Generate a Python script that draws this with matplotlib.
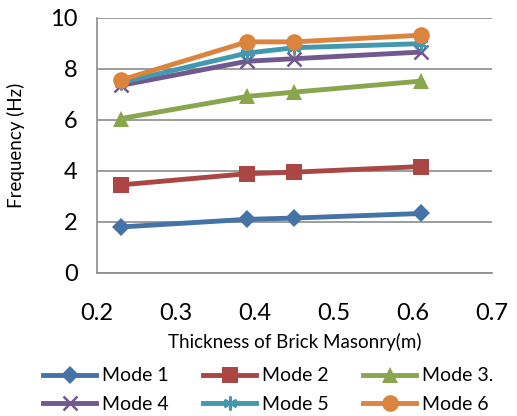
import matplotlib.pyplot as plt

plt.rcParams["font.family"] = ["Lato", "DejaVu Sans"]

thickness = [0.23, 0.39, 0.45, 0.61]
mode1 = [1.80, 2.10, 2.15, 2.33]
mode2 = [3.45, 3.89, 3.95, 4.17]
mode3 = [6.05, 6.92, 7.09, 7.52]
mode4 = [7.35, 8.30, 8.40, 8.66]
mode5 = [7.46, 8.62, 8.83, 8.99]
mode6 = [7.56, 9.06, 9.06, 9.32]

labels = ["Mode 1", "Mode 2", "Mode 3.", "Mode 4", "Mode 5", "Mode 6"]
colors = ["#4572A7", "#AA4643", "#89A54E", "#71588F", "#4198AF", "#DB843D"]
markers = ["D", "s", "^", "x", "*", "o"]
sizes = [9, 11, 12, 10, 10, 12]


def main() -> None:
    fig = plt.figure(figsize=(5.17, 4.16), dpi=100)
    ax = fig.add_axes([0.1876, 0.344, 0.764, 0.613])

    series = [mode1, mode2, mode3, mode4, mode5, mode6]
    lines = []
    for vals, lab, col, mk, ms in zip(series, labels, colors, markers, sizes):
        kw = dict(markeredgewidth=1.8) if mk in ("x", "*") else dict(markeredgewidth=0)
        if mk == "*":
            mk = (6, 2, 0)
        (ln,) = ax.plot(thickness, vals, color=col, linewidth=3.5, marker=mk,
                        markersize=ms, markerfacecolor=col, markeredgecolor=col,
                        label=lab, **kw)
        lines.append(ln)

    ax.set_xlim(0.2, 0.7)
    ax.set_ylim(0, 10)
    ax.set_xticks([0.2, 0.3, 0.4, 0.5, 0.6, 0.7])
    ax.set_yticks([0, 2, 4, 6, 8, 10])
    ax.set_xticklabels(["0.2", "0.3", "0.4", "0.5", "0.6", "0.7"])
    ax.yaxis.grid(True, color="#8c8c8c", linewidth=1.2)
    ax.set_axisbelow(True)
    for side in ["top", "right"]:
        ax.spines[side].set_visible(False)
    for side in ["left", "bottom"]:
        ax.spines[side].set_color("#8c8c8c")
        ax.spines[side].set_linewidth(1.2)
    ax.tick_params(axis="both", length=0, labelsize=17)
    ax.tick_params(axis="x", pad=22)
    ax.tick_params(axis="y", pad=14)

    ax.set_xlabel("Thickness of Brick Masonry(m)", fontsize=13.5, labelpad=6)
    ax.set_ylabel("Frequency (Hz)", fontsize=13.5, labelpad=18)

    # legend fills row by row: Mode 1-3 on top, Mode 4-6 below
    order = [0, 3, 1, 4, 2, 5]
    fig.legend([lines[i] for i in order], [labels[i] for i in order],
               loc="lower left", bbox_to_anchor=(0.05, -0.035), ncol=3,
               frameon=False, fontsize=14, handlelength=2.7,
               handletextpad=0.3, columnspacing=1.8, labelspacing=0.6)

    fig.savefig("out.png", dpi=100)
    plt.close(fig)


if __name__ == "__main__":
    main()
